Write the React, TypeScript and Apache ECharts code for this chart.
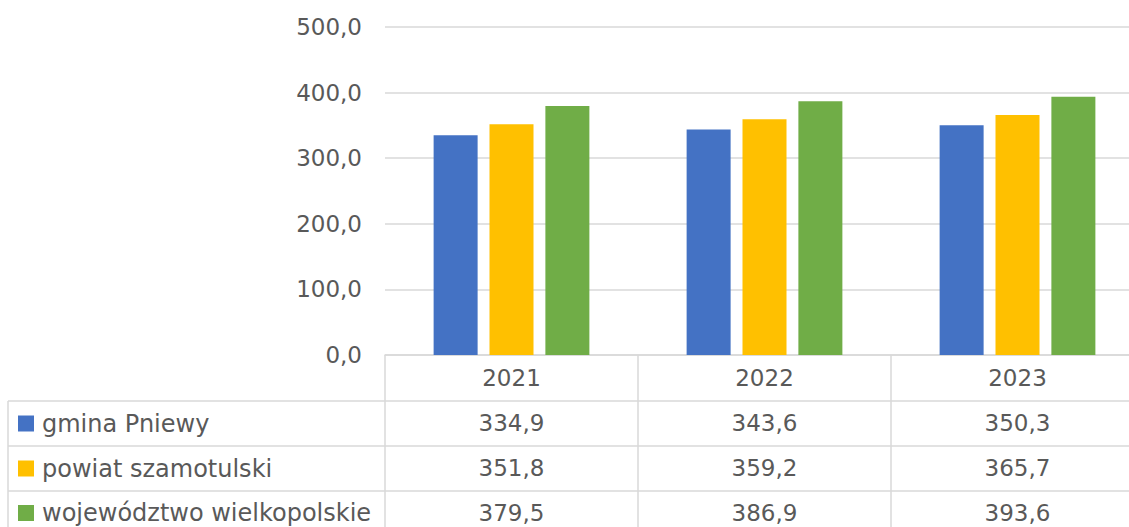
import React, { useEffect, useRef } from "react";
import * as echarts from "echarts";

const years = ["2021", "2022", "2023"];
const gmina = [334.9, 343.6, 350.3];
const powiat = [351.8, 359.2, 365.7];
const wojewodztwo = [379.5, 386.9, 393.6];
const seriesNames = ["gmina Pniewy", "powiat szamotulski", "województwo wielkopolskie"];
const colors = ["#4472C4", "#FFC000", "#70AD47"];

const FONT = "DejaVu Sans";
const FS = 23;
const TEXT = "#595959";
const LINE = "#D9D9D9";

const fmt = (v: number) => v.toFixed(1).replace(".", ",");

export default function App() {
  const ref = useRef<HTMLDivElement>(null);
  useEffect(() => {
    if (!ref.current) return;
    const chart = echarts.init(ref.current, undefined, { renderer: "svg" });
    const rows = [gmina, powiat, wojewodztwo];
    const tableAxes = rows.map((r, i) => ({
      type: "category" as const,
      gridIndex: 0,
      position: "bottom" as const,
      offset: 45 + i * 45,
      data: r.map(fmt),
      axisLine: { show: false },
      axisTick: { show: false },
      splitLine: { show: false },
      axisLabel: {
        margin: 23,
        verticalAlign: "middle" as const,
        fontFamily: FONT,
        fontSize: FS,
        color: TEXT,
        interval: 0,
      },
    }));
    const rowCenters = [423.5, 468.5, 513];
    const legends = seriesNames.map((n, i) => ({
      orient: "vertical",
      left: 18,
      top: rowCenters[i] - 12,
      padding: 0,
      icon: "rect",
      itemWidth: 16,
      itemHeight: 16,
      selectedMode: false,
      data: [n],
      textStyle: { fontFamily: FONT, fontSize: 24, color: TEXT, lineHeight: 24, padding: [0, 0, 0, 3] },
    }));
    chart.setOption({
      animation: false,
      grid: { left: 385, top: 27, width: 759, height: 328, containLabel: false, outerBoundsMode: "none" },
      legend: legends,
      xAxis: [
        {
          type: "category",
          data: years,
          axisLine: { show: true, lineStyle: { color: LINE, width: 1.5 } },
          axisTick: { show: true, alignWithLabel: false, length: 180, lineStyle: { color: LINE, width: 1.5 } },
          axisLabel: {
            margin: 23,
            verticalAlign: "middle",
            fontFamily: FONT,
            fontSize: FS,
            color: TEXT,
          },
          splitLine: { show: false },
        },
        ...tableAxes,
      ],
      yAxis: {
        type: "value",
        min: 0,
        max: 500,
        interval: 100,
        axisLine: { show: false },
        axisTick: { show: false },
        axisLabel: {
          margin: 23,
          fontFamily: FONT,
          fontSize: FS,
          color: TEXT,
          formatter: (v: number) => fmt(v),
        },
        splitLine: { show: true, lineStyle: { color: LINE, width: 1.5 } },
      },
      series: [gmina, powiat, wojewodztwo].map((d, i) => ({
        name: seriesNames[i],
        type: "bar",
        data: d,
        barWidth: 44,
        barGap: "27%",
        itemStyle: { color: colors[i] },
      })),
      graphic: [
        { type: "line", shape: { x1: 8, y1: 401, x2: 1129, y2: 401 }, style: { stroke: LINE, lineWidth: 1.5 } },
        { type: "line", shape: { x1: 8, y1: 446, x2: 1129, y2: 446 }, style: { stroke: LINE, lineWidth: 1.5 } },
        { type: "line", shape: { x1: 8, y1: 491, x2: 1129, y2: 491 }, style: { stroke: LINE, lineWidth: 1.5 } },
        { type: "line", shape: { x1: 8, y1: 401, x2: 8, y2: 527 }, style: { stroke: LINE, lineWidth: 1.5 } },
      ],
    });
    return () => chart.dispose();
  }, []);
  return (
    <div
      ref={ref}
      style={{ position: "absolute", left: 0, top: 0, width: 1129, height: 527, background: "#fff" }}
    />
  );
}
